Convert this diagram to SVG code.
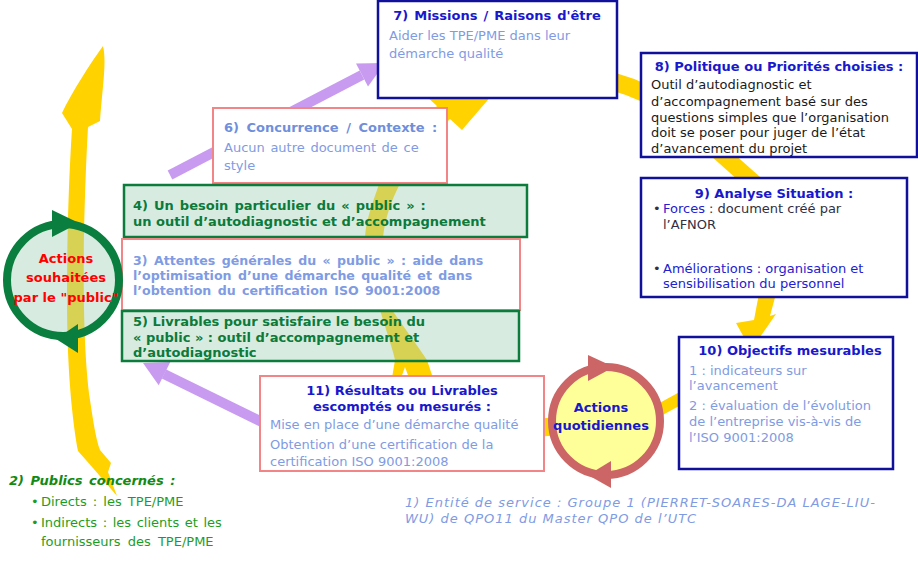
<svg xmlns="http://www.w3.org/2000/svg" width="918" height="574" viewBox="0 0 918 574">
<style>
text{font-family:"DejaVu Sans",Verdana,sans-serif;font-size:13px}
.b{font-weight:bold}
.navy{fill:#1818cc}
.lb{fill:#7f9be3}
.gr{fill:#0b7a3a}
.dk{fill:#1a1a1a}
.bl9{fill:#2222d0}
.dk9{fill:#303044}
.boxN{fill:#fff;stroke:#10109a;stroke-width:2.5}
.boxP{fill:#fff;stroke:#f28585;stroke-width:2}
.boxG{fill:#a6d2ba;fill-opacity:.45;stroke:#0c7c3c;stroke-width:2.5}
.yel{fill:#ffd200}
.ys{fill:none;stroke:#ffd200}
.pur{fill:#c89bf0}
.ps{fill:none;stroke:#c89bf0;stroke-width:10}
.ws{word-spacing:1.5px}
.t3{font-size:12.6px;word-spacing:2px}
</style>
<rect width="918" height="574" fill="#fff"/>

<g id="connectors">
  <path class="yel" d="M103,46 C107,62 102,90 100,121 L88,127 C84,200 80,330 90,400 C93,420 96,440 100,450 L111,463 L108,472 L117,496 L93,468 L78,451 C74,430 67,380 67,300 C67,220 70,160 72,129 L62,113 C72,92 90,64 103,46 Z"/>
  <path class="yel" d="M392,378 L401,378 L405,367 L409,378 L433,378 L427,360 C415,342 400,322 392,310 C384,290 381,262 383,240 C384,215 400,165 450,119 L462,130 L505,80 L425,95 L437,106 C410,135 385,165 377,190 C370,210 365,225 365,240 C365,270 372,292 380,310 C386,330 393,350 395,360 Z"/>
  <path class="ys" stroke-width="18" d="M598,78 Q630,84 662,102"/>
  <path class="ys" stroke-width="17" d="M708,142 L764,192"/>
  <path class="yel" d="M760,288 L777,290 L770,316 L776,314 L751,350 L736,323 L754,320 Z"/>
  <path class="ys" stroke-width="12" d="M652,414 L692,392"/>
  <path class="ys" stroke-width="18" d="M535,428 L560,426"/>
  <path class="ps" d="M170,175 L362,75"/>
  <polygon class="pur" points="385,63 368,86.5 356,63.5"/>
  <path class="ps" d="M266,424 L164,374"/>
  <polygon class="pur" points="143,363 170.3,362.1 158.7,385.3"/>
</g>

<g id="node7">
  <rect class="boxN" x="378" y="1" width="239" height="97"/>
  <text x="497" y="20" text-anchor="middle" class="b navy ws">7) Missions / Raisons d'être</text>
  <text x="389" y="40" class="lb">Aider les TPE/PME dans leur</text>
  <text x="389" y="58" class="lb">démarche qualité</text>
</g>

<g id="node8">
  <rect class="boxN" x="641" y="53" width="276" height="104"/>
  <text x="779" y="71" text-anchor="middle" class="b navy">8) Politique ou Priorités choisies :</text>
  <text x="651" y="89" class="dk">Outil d’autodiagnostic et</text>
  <text x="651" y="106" class="dk">d’accompagnement basé sur des</text>
  <text x="651" y="122" class="dk">questions simples que l’organisation</text>
  <text x="651" y="137" class="dk">doit se poser pour juger de l’état</text>
  <text x="651" y="153" class="dk">d’avancement du projet</text>
</g>

<g id="node9">
  <rect class="boxN" x="641" y="178" width="266" height="119"/>
  <text x="774" y="198" text-anchor="middle" class="b navy">9) Analyse Situation :</text>
  <text x="653" y="213" class="dk9" font-size="11">•</text>
  <text x="663" y="213"><tspan class="bl9">Forces</tspan><tspan class="dk9"> : document créé par</tspan></text>
  <text x="663" y="229" class="dk9">l’AFNOR</text>
  <text x="653" y="273" class="dk9" font-size="11">•</text>
  <text x="663" y="273" class="bl9">Améliorations : organisation et</text>
  <text x="663" y="288" class="bl9">sensibilisation du personnel</text>
</g>

<g id="node10">
  <rect class="boxN" x="679" y="337" width="214" height="132"/>
  <text x="790" y="355" text-anchor="middle" class="b navy">10) Objectifs mesurables</text>
  <text x="689" y="375" class="lb">1 : indicateurs sur</text>
  <text x="689" y="390" class="lb">l’avancement</text>
  <text x="689" y="410" class="lb">2 : évaluation de l’évolution</text>
  <text x="689" y="426" class="lb">de l’entreprise vis-à-vis de</text>
  <text x="689" y="442" class="lb">l’ISO 9001:2008</text>
</g>

<g id="node6">
  <rect class="boxP" x="213" y="108" width="234" height="75"/>
  <text x="224" y="132" class="b" fill="#6f8fdc" word-spacing="3">6) Concurrence / Contexte :</text>
  <text x="224" y="152" class="lb ws">Aucun autre document de ce</text>
  <text x="224" y="170" class="lb">style</text>
</g>

<g id="node4">
  <rect class="boxG" x="124" y="185" width="403" height="52"/>
  <text x="133" y="210" class="b gr ws">4) Un besoin particulier du « public » :</text>
  <text x="133" y="226" class="b gr">un outil d’autodiagnostic et d’accompagnement</text>
</g>

<g id="node3">
  <rect class="boxP" x="122" y="239" width="398" height="71"/>
  <text x="133" y="265" class="b lb t3">3) Attentes générales du « public » : aide dans</text>
  <text x="133" y="280" class="b lb t3">l’optimisation d’une démarche qualité et dans</text>
  <text x="133" y="295" class="b lb t3">l’obtention du certification ISO 9001:2008</text>
</g>

<g id="node5">
  <rect class="boxG" x="122" y="311" width="397" height="50"/>
  <text x="133" y="326" class="b gr">5) Livrables pour satisfaire le besoin du</text>
  <text x="133" y="342" class="b gr">« public » : outil d’accompagnement et</text>
  <text x="133" y="357" class="b gr">d’autodiagnostic</text>
</g>

<g id="node11">
  <rect class="boxP" x="260" y="376" width="284" height="95"/>
  <text x="402" y="395" text-anchor="middle" class="b navy">11) Résultats ou Livrables</text>
  <text x="402" y="411" text-anchor="middle" class="b navy">escomptés ou mesurés :</text>
  <text x="270" y="429" class="lb">Mise en place d’une démarche qualité</text>
  <text x="270" y="449" class="lb">Obtention d’une certification de la</text>
  <text x="270" y="466" class="lb">certification ISO 9001:2008</text>
</g>

<g id="actions-public">
  <circle cx="63" cy="280" r="56" fill="#a6d2ba" fill-opacity="0.45" stroke="#0a7e3e" stroke-width="8"/>
  <polygon points="52,210 79,223 52,237" fill="#0a7e3e"/>
  <polygon points="78,324 78,353 56,339" fill="#0a7e3e"/>
  <text x="66" y="263" text-anchor="middle" class="b" fill="#ff0000">Actions</text>
  <text x="66" y="282" text-anchor="middle" class="b" fill="#ff0000">souhaitées</text>
  <text x="66" y="302" text-anchor="middle" class="b" fill="#ff0000">par le "public"</text>
</g>

<g id="actions-quotidiennes">
  <circle cx="606" cy="421" r="54" fill="#ffff99" stroke="#cc6666" stroke-width="8"/>
  <polygon points="588,355 614,367 588,381" fill="#cc6666"/>
  <polygon points="611,461 611,488 588,475" fill="#cc6666"/>
  <text x="601" y="412" text-anchor="middle" class="b navy">Actions</text>
  <text x="601" y="430" text-anchor="middle" class="b navy">quotidiennes</text>
</g>

<g id="publics">
  <text x="9" y="485" class="b" font-style="italic" fill="#138a13" word-spacing="2">2) Publics concernés :</text>
  <text x="31" y="506" fill="#1d9d1d" font-size="11">•</text>
  <text x="41" y="506" fill="#1d9d1d" word-spacing="2">Directs : les TPE/PME</text>
  <text x="31" y="527" fill="#1d9d1d" font-size="11">•</text>
  <text x="41" y="527" fill="#1d9d1d" word-spacing="1.5">Indirects : les clients et les</text>
  <text x="41" y="546" fill="#1d9d1d" word-spacing="3">fournisseurs des TPE/PME</text>
</g>

<g id="entite">
  <text x="405" y="507" font-style="italic" class="lb" letter-spacing="1">1) Entité de service : Groupe 1 (PIERRET-SOARES-DA LAGE-LIU-</text>
  <text x="405" y="523" font-style="italic" class="lb" letter-spacing="1">WU) de QPO11 du Master QPO de l’UTC</text>
</g>
</svg>
